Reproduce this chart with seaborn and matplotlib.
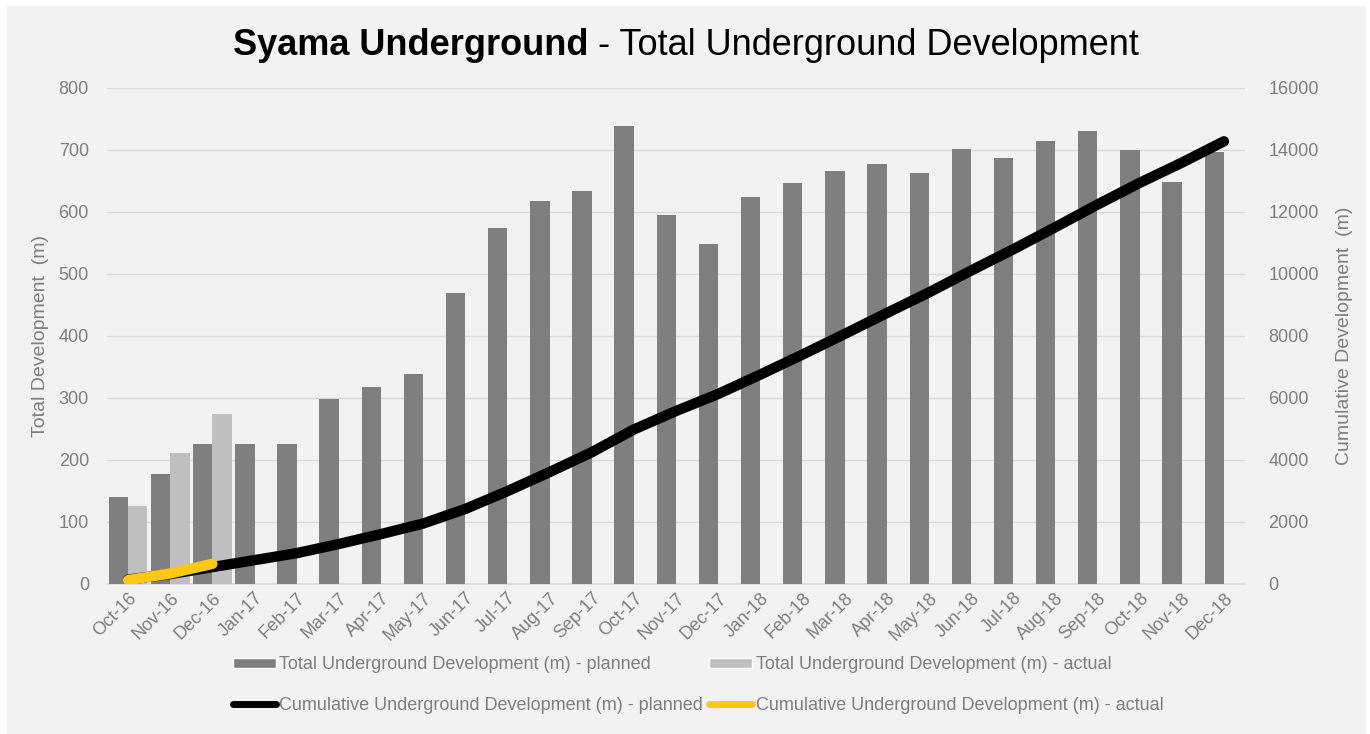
import numpy as np
import pandas as pd
import matplotlib
matplotlib.use("Agg")
import matplotlib.pyplot as plt
from matplotlib.patches import Rectangle, Patch
from matplotlib.lines import Line2D
import seaborn as sns

# values
months = ["Oct-16", "Nov-16", "Dec-16", "Jan-17", "Feb-17", "Mar-17", "Apr-17", "May-17",
          "Jun-17", "Jul-17", "Aug-17", "Sep-17", "Oct-17", "Nov-17", "Dec-17", "Jan-18",
          "Feb-18", "Mar-18", "Apr-18", "May-18", "Jun-18", "Jul-18", "Aug-18", "Sep-18",
          "Oct-18", "Nov-18", "Dec-18"]
planned = [140, 178, 226, 226, 226, 298, 318, 338, 470, 575, 618, 634, 738, 595, 549, 624,
           646, 666, 677, 663, 702, 687, 715, 731, 700, 648, 696]
actual = [126, 212, 275]
cum_planned = [140, 320, 545, 770, 995, 1290, 1610, 1950, 2420, 2995, 3610, 4250, 4985, 5580,
               6130, 6755, 7400, 8065, 8740, 9405, 10110, 10795, 11510, 12240, 12940, 13590, 14280]
cum_actual = [125, 340, 650]

lbl_plan = "Total Underground Development (m) - planned"
lbl_act = "Total Underground Development (m) - actual"
lbl_cplan = "Cumulative Underground Development (m) - planned"
lbl_cact = "Cumulative Underground Development (m) - actual"

GREY_TXT = "#7f7f7f"
BG = "#f2f2f2"

sns.set_theme(style="white")
plt.rcParams["font.family"] = ["Liberation Sans", "DejaVu Sans"]

bars = pd.DataFrame({
    "month": months + months[:len(actual)],
    "value": planned + actual,
    "series": [lbl_plan] * len(months) + [lbl_act] * len(actual),
})

fig = plt.figure(figsize=(13.70, 7.34), dpi=100, facecolor="white")
fig.patches.append(Rectangle((7 / 1370, 0), 1359 / 1370, 728 / 734, transform=fig.transFigure,
                             facecolor=BG, edgecolor="none", zorder=-10))
ax = fig.add_axes([107 / 1370, 1 - 584 / 734, 1138 / 1370, 496 / 734])
ax.set_facecolor(BG)

sns.barplot(data=bars, x="month", y="value", hue="series", order=months,
            hue_order=[lbl_plan, lbl_act], palette=["#7f7f7f", "#bfbfbf"],
            width=0.92, gap=0, errorbar=None, legend=False, ax=ax, zorder=2)
for p in ax.patches:
    p.set_edgecolor("none")

ax.set_ylim(0, 800)
ax.set_yticks(range(0, 801, 100))
ax.set_xlim(-0.5, len(months) - 0.5)
ax.yaxis.grid(True, color="#d9d9d9", linewidth=1, zorder=0)
ax.set_axisbelow(True)
for s in ["top", "left", "right"]:
    ax.spines[s].set_visible(False)
ax.spines["bottom"].set_color("#d9d9d9")
ax.spines["bottom"].set_zorder(1)

ax.set_xlabel("")
ax.set_ylabel("Total Development  (m)", fontsize=14, color=GREY_TXT, labelpad=7)
ax.tick_params(axis="y", length=0, pad=13, labelsize=13, labelcolor=GREY_TXT)
ax.tick_params(axis="x", which="major", length=0, pad=4, labelsize=13, labelcolor=GREY_TXT)
ax.set_xticks(np.arange(-0.5, len(months), 1), minor=True)
ax.tick_params(axis="x", which="minor", length=5, color="#d9d9d9", width=1)
plt.setp(ax.get_xticklabels(), rotation=45, ha="right", rotation_mode="anchor")

# cumulative lines on the secondary axis
ax2 = ax.twinx()
pos = np.arange(len(months))
sns.lineplot(x=pos, y=cum_planned, color="black", linewidth=7.5, ax=ax2,
             solid_capstyle="round", zorder=3)
sns.lineplot(x=pos[:len(cum_actual)], y=cum_actual, color="#fcc812", linewidth=7.5, ax=ax2,
             solid_capstyle="round", zorder=4)
ax2.set_ylim(0, 16000)
ax2.set_yticks(range(0, 16001, 2000))
ax2.set_xlim(-0.5, len(months) - 0.5)
for s in ["top", "left", "right", "bottom"]:
    ax2.spines[s].set_visible(False)
ax2.tick_params(axis="y", length=0, pad=17, labelsize=13, labelcolor=GREY_TXT)
ax2.set_ylabel("Cumulative Development  (m)", fontsize=14, color=GREY_TXT, labelpad=12)
ax2.grid(False)

# title: bold part + regular part
r = fig.canvas.get_renderer()
t1 = fig.text(0, 1 - 55 / 734, "Syama Underground", fontsize=26, fontweight="bold", color="black")
t2 = fig.text(0, 1 - 55 / 734, " - Total Underground Development", fontsize=26, color="black")
w1 = t1.get_window_extent(r).width
w2 = t2.get_window_extent(r).width
x0 = 686 - (w1 + w2) / 2
t1.set_x(x0 / 1370)
t2.set_x((x0 + w1) / 1370)

handles = [
    Patch(facecolor="#7f7f7f", label=lbl_plan),
    Line2D([], [], color="black", linewidth=5, label=lbl_cplan),
    Patch(facecolor="#bfbfbf", label=lbl_act),
    Line2D([], [], color="#fcc812", linewidth=5, label=lbl_cact),
]
leg = fig.legend(handles=handles, ncol=2, loc="center", bbox_to_anchor=(698 / 1370, 1 - 685 / 734),
                 frameon=False, fontsize=13, labelcolor=GREY_TXT, handlelength=2.4,
                 handleheight=0.5, handletextpad=0.2, columnspacing=0.3, labelspacing=1.3)

fig.savefig("out.png", dpi=100, facecolor=fig.get_facecolor())
